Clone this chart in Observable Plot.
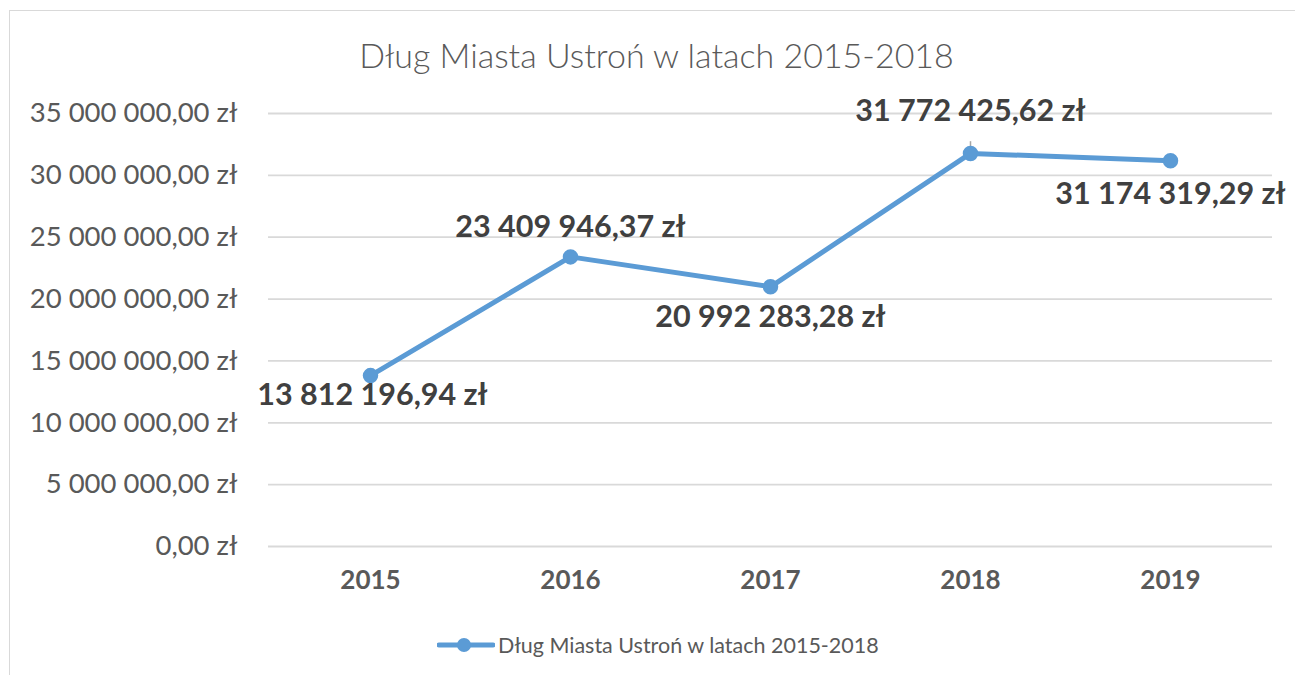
<!DOCTYPE html>
<html><head><meta charset="utf-8">
<script src="https://cdn.jsdelivr.net/npm/d3@7"></script>
<script src="https://cdn.jsdelivr.net/npm/@observablehq/plot@0.6"></script>
<style>
body{margin:0;background:#fff;font-family:Lato,sans-serif;overflow:hidden;}
#frame{position:absolute;left:9px;top:10px;width:1400px;height:700px;border:1.5px solid #d9d9d9;box-sizing:border-box;}
#title{position:absolute;left:0;top:35px;width:1313px;text-align:center;font-size:34px;color:#595959;font-weight:300;line-height:40px;}
#chart{position:absolute;left:0;top:0;}
#legend{position:absolute;top:631px;left:437px;display:flex;align-items:center;font-size:21.5px;color:#595959;line-height:28px;}
#legend svg{margin-right:3px;}
</style>
</head><body>
<div id="frame"></div>
<div id="chart"></div>
<div id="title"></div>
<div id="legend"></div>
<script>
const titleText = "Dług Miasta Ustroń w latach 2015-2018";
const seriesName = "Dług Miasta Ustroń w latach 2015-2018";
const years = ["2015", "2016", "2017", "2018", "2019"];
const debt = [13812196.94, 23409946.37, 20992283.28, 31772425.62, 31174319.29];
const yTicks = [0, 5000000, 10000000, 15000000, 20000000, 25000000, 30000000, 35000000];

const pl = d3.formatLocale({decimal: ",", thousands: " ", grouping: [3], currency: ["", " zł"]});
const fmt = v => pl.format(",.2f")(v) + " zł";

const data = years.map((y, i) => ({year: y, value: debt[i], i}));
const blue = "#5b9bd5";
// label placement (Excel data-label positions)
const labelDy = i => [20, -30, 30, -42, 33][i];

const marks = [
  Plot.gridY(yTicks, {stroke: "#d9d9d9", strokeOpacity: 1, strokeWidth: 1.8}),
  Plot.axisY(yTicks, {tickSize: 0, tickPadding: 31, tickFormat: fmt, fontSize: 27.5, fill: "#595959", label: null}),
  Plot.axisX({tickSize: 0, tickPadding: 24, fontSize: 26, fontWeight: "bold", fill: "#595959", label: null}),
  Plot.ruleX(data.filter(d => d.i === 3), {x: "year", y1: "value", y2: d => d.value + 0.95e6, stroke: "#a6a6a6", strokeWidth: 1.5}),
  Plot.line(data, {x: "year", y: "value", stroke: blue, strokeWidth: 5, strokeLinejoin: "round", strokeLinecap: "round"}),
  Plot.dot(data, {x: "year", y: "value", r: 7, fill: blue, stroke: blue}),
];
data.forEach(d => {
  marks.push(Plot.text([d], {x: "year", y: "value", text: e => fmt(e.value), dy: labelDy(d.i), dx: d.i === 0 ? 2 : 0,
    fontSize: 30.5, fontWeight: "bold", fill: "#404040"}));
});

const plot = Plot.plot({
  width: 1295, height: 610,
  marginLeft: 268, marginRight: 23, marginTop: 113, marginBottom: 64,
  style: {fontFamily: "Lato, sans-serif", background: "transparent", overflow: "visible"},
  x: {type: "point", domain: years, padding: 0.5},
  y: {domain: [0, 35000000]},
  marks
});
document.getElementById("chart").appendChild(plot);
document.getElementById("title").textContent = titleText;
document.getElementById("legend").innerHTML =
  `<svg width="58" height="16"><line x1="2" y1="8" x2="56" y2="8" stroke="${blue}" stroke-width="5" stroke-linecap="round"/><circle cx="27" cy="8" r="7" fill="${blue}"/></svg><span></span>`;
document.querySelector("#legend span").textContent = seriesName;
</script>
</body></html>
